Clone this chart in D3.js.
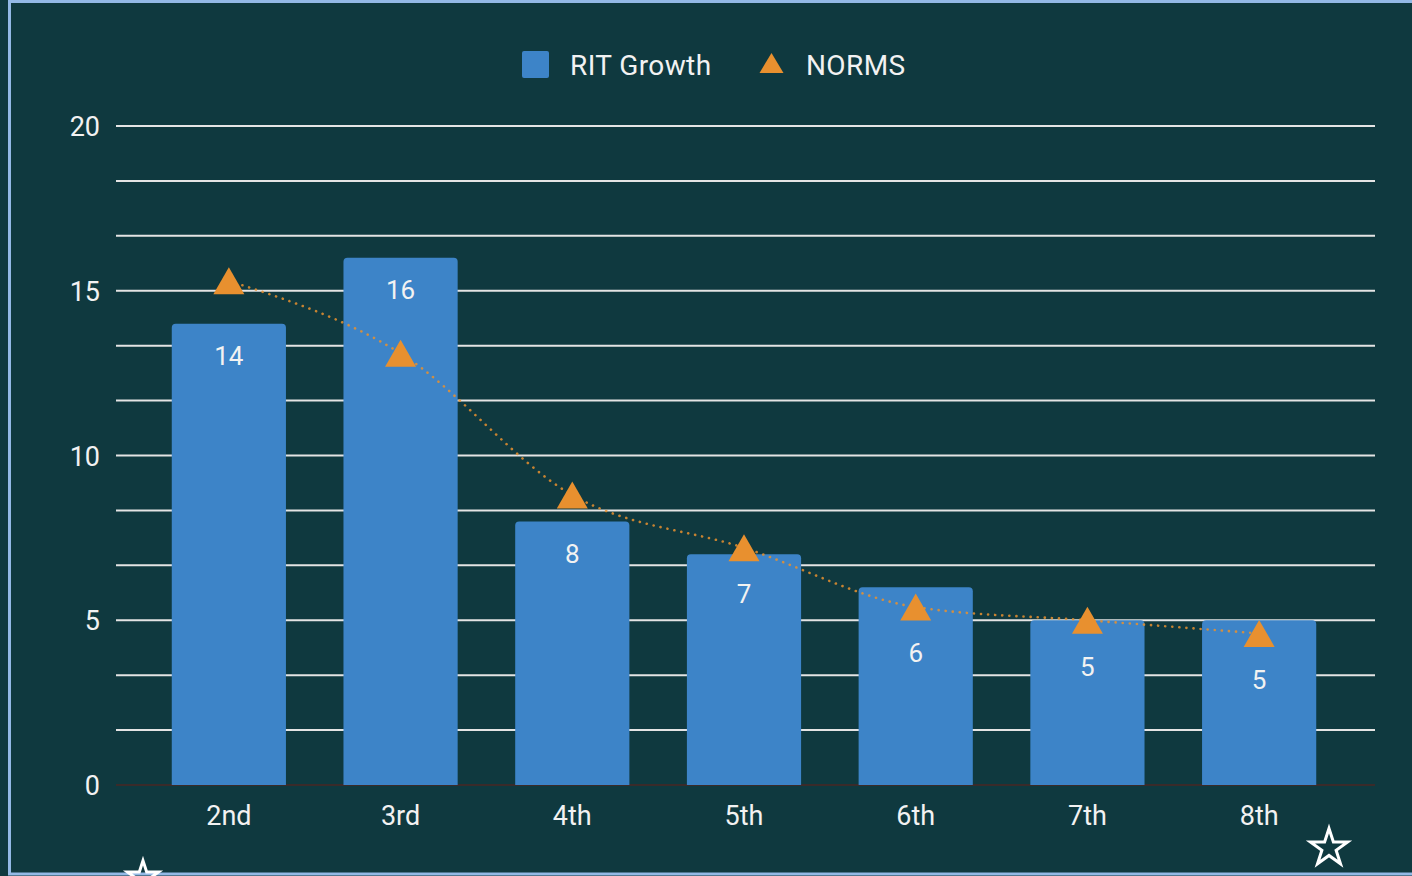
<!DOCTYPE html>
<html>
<head>
<meta charset="utf-8">
<script src="https://cdn.jsdelivr.net/npm/d3@7"></script>
<style>
  html, body { margin: 0; padding: 0; background: #0f393f; overflow: hidden; }
  svg { display: block; }
  text { font-family: Roboto, "Noto Sans", sans-serif; }
</style>
</head>
<body>
<svg id="chart" width="1412" height="876"></svg>
<script>
const categories = ["2nd", "3rd", "4th", "5th", "6th", "7th", "8th"];
const ritGrowth = [14, 16, 8, 7, 6, 5, 5];
const norms = [15.3, 13.1, 8.8, 7.2, 5.4, 5.0, 4.6];
const yTicks = [0, 5, 10, 15, 20];
const seriesNames = ["RIT Growth", "NORMS"];

const W = 1412, H = 876;
const svg = d3.select("#chart");
const bg = "#0f393f";
const blue = "#3d84c8";
const orange = "#e8902f";
const textColor = "#f2f2f2";

// background + frame
svg.append("rect").attr("x", 0).attr("y", 0).attr("width", W).attr("height", H).attr("fill", bg);
svg.append("rect").attr("x", 9.5).attr("y", 1.5).attr("width", W + 20).attr("height", H - 3.5)
  .attr("fill", "none").attr("stroke", "#93b9e6").attr("stroke-width", 3);

const plot = { left: 116, right: 1375, top: 126, bottom: 785 };

const x = d3.scaleBand().domain(categories).range([143, 1345]).paddingInner(0.335).paddingOuter(0.1675);
const y = d3.scaleLinear().domain([0, 20]).range([plot.bottom, plot.top]);

// gridlines (major + minor)
const gridVals = d3.range(0, 13).map(i => i * 20 / 12);
svg.append("g").selectAll("line").data(gridVals.filter(v => v > 0)).join("line")
  .attr("x1", plot.left).attr("x2", plot.right)
  .attr("y1", d => y(d)).attr("y2", d => y(d))
  .attr("stroke", "#e4e4e4").attr("stroke-width", 2);
svg.append("line").attr("x1", plot.left).attr("x2", plot.right)
  .attr("y1", y(0)).attr("y2", y(0)).attr("stroke", "#3a2b2a").attr("stroke-width", 2);

// y axis labels
const yAxis = d3.axisLeft(y).tickValues(yTicks).tickSize(0).tickPadding(0);
const gy = svg.append("g").attr("transform", `translate(100,0)`).call(yAxis);
gy.select(".domain").remove();
gy.selectAll("text").attr("fill", textColor).attr("font-size", 27).attr("dy", "0.36em")
  .style("font-family", "Roboto, sans-serif");

// bars with rounded top corners
function barPath(x0, w, yTop, yBot, r) {
  return `M${x0},${yBot} L${x0},${yTop + r} Q${x0},${yTop} ${x0 + r},${yTop} L${x0 + w - r},${yTop} Q${x0 + w},${yTop} ${x0 + w},${yTop + r} L${x0 + w},${yBot} Z`;
}
const bw = x.bandwidth();
svg.append("g").selectAll("path").data(categories).join("path")
  .attr("d", (c, i) => barPath(x(c), bw, y(ritGrowth[i]), y(0), 4))
  .attr("fill", blue);

// x axis labels
const xAxis = d3.axisBottom(x).tickSize(0).tickPadding(0);
const gx = svg.append("g").attr("transform", `translate(0,${y(0) + 21})`).call(xAxis);
gx.select(".domain").remove();
gx.selectAll("text").attr("fill", textColor).attr("font-size", 27).attr("dy", "0.71em")
  .style("font-family", "Roboto, sans-serif");

// NORMS line (dotted, smooth)
const line = d3.line()
  .x((d, i) => x(categories[i]) + bw / 2)
  .y(d => y(d))
  .curve(d3.curveMonotoneX);
svg.append("path").datum(norms).attr("d", line)
  .attr("fill", "none").attr("stroke", orange).attr("stroke-opacity", 0.85)
  .attr("stroke-width", 2.6).attr("stroke-linecap", "round").attr("stroke-dasharray", "0.1,7");

// bar value labels (push below triangle if it overlaps)
svg.append("g").selectAll("text").data(categories).join("text")
  .attr("x", c => x(c) + bw / 2)
  .attr("y", (c, i) => {
    const top = y(ritGrowth[i]);
    let ly = top + 32;
    const ty = y(norms[i]);
    if (ty > top - 10 && ty < ly + 15) ly = ty + 46;
    return ly;
  })
  .attr("dy", "0.36em")
  .attr("text-anchor", "middle").attr("fill", textColor).attr("font-size", 26)
  .text((c, i) => ritGrowth[i]);

// triangles
function tri(cx, cy, w, h) {
  return `M${cx},${cy - h / 2} L${cx + w / 2},${cy + h / 2} L${cx - w / 2},${cy + h / 2} Z`;
}
svg.append("g").selectAll("path").data(norms).join("path")
  .attr("d", (d, i) => tri(x(categories[i]) + bw / 2, y(d), 31, 27))
  .attr("fill", orange);

// legend
const lg = svg.append("g");
lg.append("rect").attr("x", 522).attr("y", 51).attr("width", 27).attr("height", 27).attr("rx", 2).attr("fill", blue);
lg.append("text").attr("x", 570).attr("y", 65).attr("dy", "0.36em").attr("fill", textColor)
  .attr("font-size", 28).attr("letter-spacing", 0.4).text(seriesNames[0]);
lg.append("path").attr("d", tri(771.5, 63, 24, 20)).attr("fill", orange);
lg.append("text").attr("x", 806).attr("y", 65).attr("dy", "0.36em").attr("fill", textColor)
  .attr("font-size", 28).attr("letter-spacing", 0.4).text(seriesNames[1]);

// decorative stars
svg.append("path").attr("d", d3.symbol().type(d3.symbolStar).size(430)()).attr("transform", "translate(1329,848)")
  .attr("fill", "none").attr("stroke", "#ffffff").attr("stroke-width", 3);
svg.append("path").attr("d", d3.symbol().type(d3.symbolStar).size(300)()).attr("transform", "translate(143,877)")
  .attr("fill", "none").attr("stroke", "#ffffff").attr("stroke-width", 3);
</script>
</body>
</html>
